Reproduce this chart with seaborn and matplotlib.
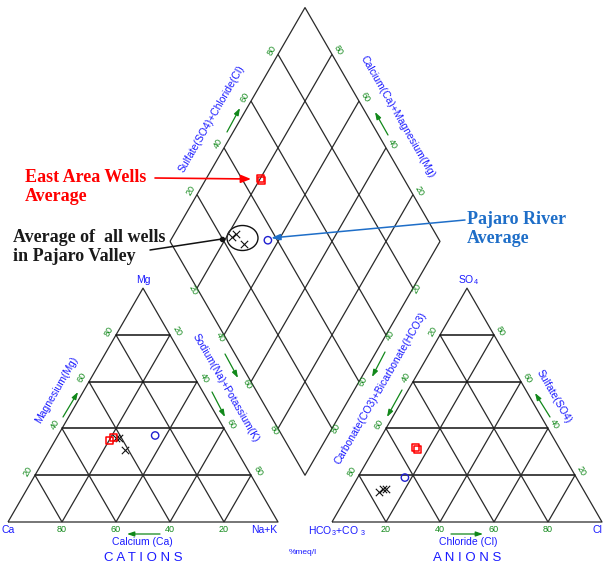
import numpy as np
import pandas as pd
import matplotlib
matplotlib.use("Agg")
import matplotlib.pyplot as plt
from matplotlib.patches import Ellipse
import seaborn as sns

# ---- sample chemistry (percent of meq/l) ----
groups = ["All wells", "All wells", "All wells", "East Area", "East Area", "Pajaro River"]
ca     = [42, 41, 41, 45, 43, 27]
mg     = [36, 36, 31, 35, 36, 37]
na_k   = [22, 23, 28, 20, 21, 36]
hco3   = [76, 74, 73, 53, 53, 63.5]
so4    = [13, 14, 14, 32, 31, 19]
cl     = [11, 12, 13, 15, 16, 17.5]

ticks = [20, 40, 60, 80]

sns.set_theme(style="white")
plt.rcParams["font.family"] = ["Liberation Sans", "DejaVu Sans"]
plt.rcParams["mathtext.fontset"] = "custom"
plt.rcParams["mathtext.rm"] = "Liberation Sans"
plt.rcParams["mathtext.it"] = "Liberation Sans"

fig = plt.figure(figsize=(6.04, 5.69), dpi=100)
ax = fig.add_axes([0, 0, 1, 1])
ax.set_xlim(0, 604)
ax.set_ylim(569, 0)
ax.axis("off")

# ---- Piper geometry (drawing units = pixels) ----
X0, Y0 = 8.0, 522.0          # Ca corner of the cation triangle
L = 270.0                    # side length
H = L * np.sqrt(3) / 2
G = 54.0                     # gap between the two triangles
DLX = X0 + L / 2 + G / 2     # left vertex of the diamond
DLY = Y0 - H - G * np.sqrt(3) / 2


def cation_xy(c, m, n):
    return X0 + L * (n + m / 2) / 100, Y0 - H * m / 100


def anion_xy(h, s, c):
    return X0 + L + G + L * (c + s / 2) / 100, Y0 - H * s / 100


def diamond_xy(n, sc):
    return DLX + L / 2 * (sc + n) / 100, DLY - H * (sc - n) / 100


def seg(p, q, **kw):
    ax.plot([p[0], q[0]], [p[1], q[1]], **kw)


grid_kw = dict(color="#2a2a2a", lw=0.9, solid_capstyle="butt")

# triangles: outline + grid
for f in (cation_xy, anion_xy):
    a, b, c = f(100, 0, 0), f(0, 100, 0), f(0, 0, 100)
    ax.plot([a[0], b[0], c[0], a[0]], [a[1], b[1], c[1], a[1]], **grid_kw)
    for v in ticks:
        seg(f(100 - v, v, 0), f(0, v, 100 - v), color="#111111", lw=1.1)
        seg(f(v, 100 - v, 0), f(v, 0, 100 - v), **grid_kw)
        seg(f(100 - v, 0, v), f(0, 100 - v, v), **grid_kw)

# diamond: outline + grid
corners = [diamond_xy(0, 0), diamond_xy(0, 100), diamond_xy(100, 100), diamond_xy(100, 0), diamond_xy(0, 0)]
ax.plot([p[0] for p in corners], [p[1] for p in corners], **grid_kw)
for v in ticks:
    seg(diamond_xy(0, v), diamond_xy(100, v), **grid_kw)
    seg(diamond_xy(v, 0), diamond_xy(v, 100), **grid_kw)

# ---- tick labels ----
GREEN = "#11881a"
BLUE = "#1a1aff"
tk = dict(color=GREEN, fontsize=6.5, ha="center", va="center")
for v in ticks:
    x, y = cation_xy(v, 0, 100 - v); ax.text(x, y + 8, str(v), **tk)
    x, y = cation_xy(100 - v, v, 0); ax.text(x - 7, y - 4, str(v), rotation=60, **tk)
    x, y = cation_xy(0, 100 - v, v); ax.text(x + 7, y - 4, str(v), rotation=-60, **tk)
    x, y = anion_xy(100 - v, 0, v); ax.text(x, y + 8, str(v), **tk)
    x, y = anion_xy(v, 100 - v, 0); ax.text(x - 7, y - 4, str(v), rotation=60, **tk)
    x, y = anion_xy(0, v, 100 - v); ax.text(x + 6, y - 4, str(v), rotation=-60, **tk)
    x, y = diamond_xy(0, v); ax.text(x - 6, y - 4, str(v), rotation=60, **tk)
    x, y = diamond_xy(100 - v, 100); ax.text(x + 6, y - 4, str(v), rotation=-60, **tk)
    x, y = diamond_xy(v, 0); ax.text(x - 4, y + 2, str(v), rotation=-60, **tk)
    x, y = diamond_xy(100, 100 - v); ax.text(x + 4, y, str(v), rotation=60, **tk)

# ---- axis titles ----
ttl = dict(color=BLUE, fontsize=7.5, ha="center", va="center")
ax.text(57, 390, "Magnesium(Mg)", rotation=60, **ttl)
ax.text(226, 388, "Sodium(Na)+Potassium(K)", rotation=-60, **ttl)
ax.text(142, 542, "Calcium (Ca)", **ttl)
ax.text(381, 388, "Carbonate(CO3)+Bicarbonate(HCO3)", rotation=60, **ttl)
ax.text(554, 397, "Sulfate(SO4)", rotation=-60, **ttl)
ax.text(468, 542, "Chloride (Cl)", **ttl)
ax.text(212, 119, "Sulfate(SO4)+Chloride(Cl)", rotation=60, **ttl)
ax.text(398, 117, "Calcium(Ca)+Magnesium(Mg)", rotation=-60, **ttl)
ax.text(143, 558, "C A T I O N S", color=BLUE, fontsize=9.5, ha="center", va="center")
ax.text(467, 558, "A N I O N S", color=BLUE, fontsize=9.5, ha="center", va="center")
ax.text(303, 553, "%meq/l", color=BLUE, fontsize=6, ha="center", va="center")

# corner labels
ax.text(143, 280, "Mg", **ttl)
ax.text(8, 530, "Ca", **ttl)
ax.text(264, 530, "Na+K", **ttl)
ax.text(468, 280, "SO$_4$", **ttl)
ax.text(337, 531, "HCO$_3$+CO $_3$", **ttl)
ax.text(602, 530, "Cl", color=BLUE, fontsize=7.5, ha="right", va="center")

# direction arrows beside each scale
arrows = [((63, 417), (78, 392)), ((160, 534), (127, 534)),
          ((225, 354), (238, 378)), ((212, 392), (225, 417)),
          ((451, 534), (483, 534)), ((550, 417), (535, 393)),
          ((385, 352), (372, 377)), ((402, 390), (387, 417)),
          ((227, 132), (240, 108)), ((388, 135), (375, 112))]
for p, q in arrows:
    ax.annotate("", xy=q, xytext=p,
                arrowprops=dict(arrowstyle="-|>,head_length=0.35,head_width=0.12",
                                color=GREEN, lw=0.9, shrinkA=0, shrinkB=0))

# ---- samples projected onto the three fields ----
rows = []
for g, c_, m_, n_, h_, s_, l_ in zip(groups, ca, mg, na_k, hco3, so4, cl):
    for x, y in (cation_xy(c_, m_, n_), anion_xy(h_, s_, l_), diamond_xy(n_, s_ + l_)):
        rows.append({"group": g, "x": x, "y": y})
pts = pd.DataFrame(rows)

styles = {
    "All wells": dict(marker="x", s=28, color="#111111", linewidth=0.8),
    "East Area": dict(marker="s", s=26, fc="none", ec="#ff0000", linewidth=1.1),
    "Pajaro River": dict(marker="o", s=28, fc="none", ec="#2020d0", linewidth=1.0),
}
for g, kw in styles.items():
    sub = pts[pts["group"] == g]
    sns.scatterplot(data=sub, x="x", y="y", ax=ax, legend=False, zorder=5, **kw)
ax.set_xlim(0, 604)
ax.set_ylim(569, 0)
ax.axis("off")

# ---- callouts ----
serif = dict(family=["Liberation Serif", "DejaVu Serif"], fontweight="bold", fontsize=13, linespacing=1.2)
ax.text(25, 187, "East Area Wells\nAverage", color="#ff0000", ha="left", va="center", **serif)
ax.annotate("", xy=(251, 179), xytext=(155, 178),
            arrowprops=dict(arrowstyle="-|>,head_length=0.5,head_width=0.2", color="#ff0000", lw=1.2,
                            shrinkA=0, shrinkB=0))

ax.text(13, 247, "Average of  all wells\nin Pajaro Valley", color="#1a1a1a", ha="left", va="center", **serif)
ax.plot([150, 222], [250, 239], color="#111111", lw=1.1)
ax.plot([222], [239], marker="o", ms=3, color="#111111")
ax.add_patch(Ellipse((242.5, 238), 31, 25, fill=False, ec="#111111", lw=1.0))

ax.text(467, 229, "Pajaro River\nAverage", color="#1e6ec8", ha="left", va="center", **serif)
ax.annotate("", xy=(271, 238), xytext=(465, 220),
            arrowprops=dict(arrowstyle="-|>,head_length=0.45,head_width=0.15", color="#1e6ec8", lw=1.1,
                            shrinkA=0, shrinkB=0))

fig.savefig("out.png", dpi=100)
